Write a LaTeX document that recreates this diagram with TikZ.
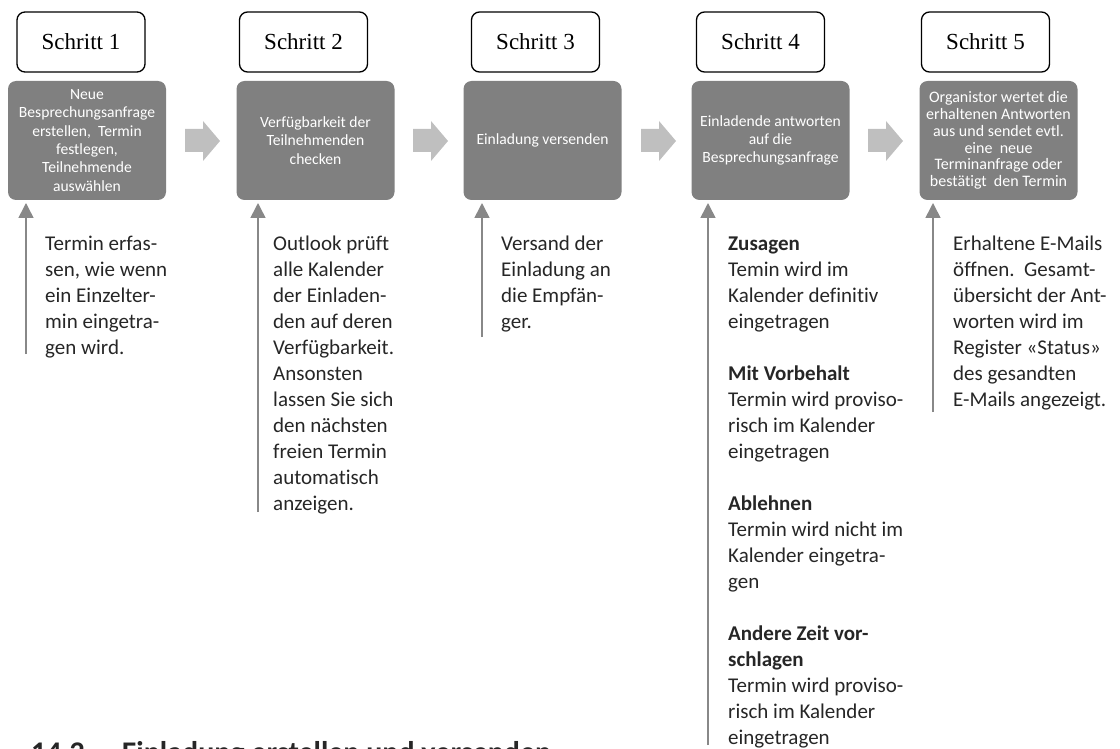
\documentclass[tikz,border=0pt]{standalone}
\usepackage{fontspec}
\setmainfont{Carlito}[Ligatures=NoCommon]
\newfontfamily\stepfont{Liberation Serif}
\usetikzlibrary{arrows.meta}
\definecolor{boxgray}{HTML}{808080}
\definecolor{chevgray}{HTML}{BFBFBF}
\definecolor{arrgray}{HTML}{888888}
\definecolor{txt}{HTML}{262626}
\tikzset{
  stepbox/.style={draw=black, line width=1.3pt, fill=white, rounded corners=8pt,
    minimum width=128pt, minimum height=60pt, inner sep=0pt,
    font=\stepfont\fontsize{23}{27}\selectfont},
  graybox/.style={fill=boxgray, rounded corners=8pt, minimum width=158pt, minimum height=119pt,
    inner sep=0pt, align=center, text=white, font=\fontsize{15.6}{18.3}\selectfont},
  desc/.style={anchor=north west, align=left, inner sep=0pt, text=txt,
    font=\fontsize{21}{26}\selectfont},
  varrow/.style={draw=arrgray, line width=1.6pt, -{Triangle[width=15pt,length=15pt]}},
  chev/.style={fill=chevgray}
}
\begin{document}
\begin{tikzpicture}[x=1pt,y=-1pt]
\useasboundingbox (0,0) rectangle (1120,749);
\clip (0,0) rectangle (1120,749);
% step labels
\node[stepbox] (s1) at (81,42) {Schritt 1};
\node[stepbox] (s2) at (303.5,42) {Schritt 2};
\node[stepbox] (s3) at (535.5,42) {Schritt 3};
\node[stepbox] (s4) at (760.5,42) {Schritt 4};
\node[stepbox] (s5) at (985.5,42) {Schritt 5};
% gray boxes
\node[graybox] (g1) at (87,140.5) {Neue\\Besprechungsanfrage\\erstellen,\ \ Termin\\festlegen,\\Teilnehmende\\auswählen};
\node[graybox] (g2) at (315.5,140.5) {Verfügbarkeit der\\Teilnehmenden\\checken};
\node[graybox] (g3) at (542.5,140.5) {Einladung versenden};
\node[graybox] (g4) at (770.5,140.5) {Einladende antworten\\auf die\\Besprechungsanfrage};
\node[graybox, font=\fontsize{16}{16.8}\selectfont] (g5) at (998.5,140.5) {Organistor wertet die\\erhaltenen Antworten\\aus und sendet evtl.\\eine\ \ neue\\Terminanfrage oder\\bestätigt\ \ den Termin};
% chevrons
\foreach \x in {185,413,641,868}{
  \fill[chev] (\x,129) -- (\x+18,129) -- (\x+18,121) -- (\x+35,141) -- (\x+18,161) -- (\x+18,152) -- (\x,152) -- cycle;
}
% vertical arrows
\coordinate (b1) at (26,354);  \coordinate (h1) at (26,203);
\coordinate (b2) at (258,512); \coordinate (h2) at (258,203);
\coordinate (b3) at (482,337); \coordinate (h3) at (482,203);
\coordinate (b4) at (708,745); \coordinate (h4) at (708,203);
\coordinate (b5) at (933,412); \coordinate (h5) at (933,203);
\draw[varrow] (b1) -- (h1);
\draw[varrow] (b2) -- (h2);
\draw[varrow] (b3) -- (h3);
\draw[varrow] (b4) -- (h4);
\draw[varrow] (b5) -- (h5);
% descriptions (first baseline at y=250; strut height 18.2)
\node[desc] (t1) at (45,231.8) {\strut Termin erfas-\\sen, wie wenn\\ein Einzelter-\\min eingetra-\\gen wird.};
\node[desc] (t2) at (273,231.8) {\strut Outlook prüft\\alle Kalender\\der Einladen-\\den auf deren\\Verfügbarkeit.\\Ansonsten\\lassen Sie sich\\den nächsten\\freien Termin\\automatisch\\anzeigen.};
\node[desc] (t3) at (501,231.8) {\strut Versand der\\Einladung an\\die Empfän-\\ger.};
\node[desc] (t4) at (728,231.8) {\strut\textbf{Zusagen}\\Temin wird im\\Kalender definitiv\\eingetragen\\[26pt]\textbf{Mit Vorbehalt}\\Termin wird proviso-\\risch im Kalender\\eingetragen\\[26pt]\textbf{Ablehnen}\\Termin wird nicht im\\Kalender eingetra-\\gen\\[26pt]\textbf{Andere Zeit vor-}\\\textbf{schlagen}\\Termin wird proviso-\\risch im Kalender\\eingetragen};
\node[desc] (t5) at (953,231.8) {\strut Erhaltene E-Mails\\öffnen.\ \ Gesamt-\\übersicht der Ant-\\worten wird im\\Register «Status»\\des gesandten\\E-Mails angezeigt.};
% heading (cut off at the bottom)
\node[anchor=base west, inner sep=0pt, text=txt, font=\bfseries\fontsize{30}{36}\selectfont] (hd) at (31,762) {14.2\hspace{37pt}Einladung erstellen und versenden};
\end{tikzpicture}
\end{document}
